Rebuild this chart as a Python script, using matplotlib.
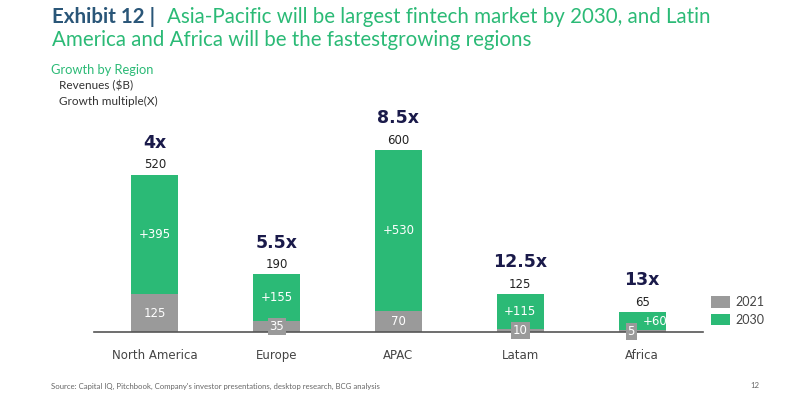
import matplotlib.pyplot as plt
import numpy as np

# data
regions = ["North America", "Europe", "APAC", "Latam", "Africa"]
rev_2021 = [125, 35, 70, 10, 5]
growth = [395, 155, 530, 115, 60]
total_2030 = [520, 190, 600, 125, 65]
multiples = ["4x", "5.5x", "8.5x", "12.5x", "13x"]

green = "#2bba76"
grey = "#9a9a9a"
navy = "#1a1a4a"
blue = "#2a5678"
head = ["Lato", "DejaVu Sans"]

fig = plt.figure(figsize=(8, 4), dpi=100)
ax = fig.add_axes([94 / 800, 68 / 400, 609 / 800, 221 / 400])

x = np.arange(len(regions))
w = 0.385
ax.bar(x, rev_2021, w, color=grey, label="2021")
ax.bar(x, growth, w, bottom=rev_2021, color=green, label="2030")
ax.set_xlim(-0.5, 4.5)
ax.set_ylim(0, 730)

for s in ["top", "right", "left"]:
    ax.spines[s].set_visible(False)
ax.spines["bottom"].set_color("#555555")
ax.spines["bottom"].set_linewidth(1.2)
ax.set_yticks([])
ax.set_xticks(x)
ax.set_xticklabels(regions, fontsize=8.5, color="#444444")
ax.tick_params(axis="x", length=0, pad=12)

for i in range(len(regions)):
    top = total_2030[i]
    ax.annotate(str(top), (x[i], top), xytext=(0, 7), textcoords="offset points",
                ha="center", va="center", fontsize=8.5, color="#222222")
    ax.annotate(multiples[i], (x[i], top), xytext=(0, 23), textcoords="offset points",
                ha="center", va="center", fontsize=12.5, fontweight="bold", color=navy)
    # growth label inside green part
    gx = x[i] + 0.11 if i == 4 else x[i]
    ax.text(gx, rev_2021[i] + growth[i] / 2, "+%d" % growth[i], ha="center", va="center",
            fontsize=8.5, color="white")
    # 2021 label
    if rev_2021[i] >= 70:
        ax.text(x[i], rev_2021[i] / 2, str(rev_2021[i]), ha="center", va="center",
                fontsize=8.5, color="white")
    else:
        lx = x[i] - 0.09 if i == 4 else x[i]
        ax.text(lx, max(rev_2021[i] / 2, 2), str(rev_2021[i]), ha="center", va="center",
                fontsize=8.5, color="white",
                bbox=dict(boxstyle="square,pad=0.15", fc=grey, ec="none"))

# legend
h, l = ax.get_legend_handles_labels()
fig.legend(h, l, loc="upper left", bbox_to_anchor=(700 / 800, 1 - 285 / 400),
           frameon=False, prop={"family": head, "size": 9}, handlelength=1.5,
           handleheight=1.0, handletextpad=0.4, labelspacing=0.45, labelcolor="#444444")

# title block
fig.text(52 / 800, 1 - 17 / 400, "Exhibit 12 |", fontsize=14.8, fontweight="bold",
         color=blue, va="center", family=head)
fig.text(167 / 800, 1 - 17 / 400, "Asia-Pacific will be largest fintech market by 2030, and Latin",
         fontsize=14.8, color=green, va="center", family=head)
fig.text(52 / 800, 1 - 40 / 400, "America and Africa will be the fastestgrowing regions",
         fontsize=14.8, color=green, va="center", family=head)
fig.text(51 / 800, 1 - 70 / 400, "Growth by Region", fontsize=9.3, color=green,
         va="center", family=head)
fig.text(59 / 800, 1 - 86 / 400, "Revenues ($B)", fontsize=8.5, color="#333333",
         va="center", family=head)
fig.text(59 / 800, 1 - 101 / 400, "Growth multiple(X)", fontsize=8.5, color="#333333",
         va="center", family=head)

fig.text(51 / 800, 1 - 386 / 400,
         "Source: Capital IQ, Pitchbook, Company's investor presentations, desktop research, BCG analysis",
         fontsize=5.6, color="#666666", va="center", family=head)
fig.text(750 / 800, 1 - 386 / 400, "12", fontsize=5.6, color="#666666", va="center",
         family=head)

fig.savefig("out.png", dpi=100)
